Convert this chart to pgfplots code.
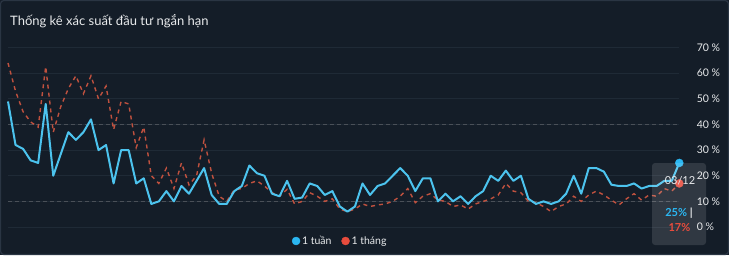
\documentclass[border=0pt]{standalone}
\usepackage{pgfplots}
\pgfplotsset{compat=1.18}
\usepackage{pgfplotstable}
\usepackage{fontspec}
\setmainfont{Lato}
\definecolor{bg}{HTML}{141D28}
\definecolor{framec}{HTML}{2A3543}
\definecolor{gridc}{HTML}{1F2A36}
\definecolor{gridd}{HTML}{4A5058}
\definecolor{txt}{HTML}{E8EAEC}
\definecolor{blueL}{HTML}{4CC3EE}
\definecolor{redL}{HTML}{C0513F}
\definecolor{blueD}{HTML}{2BB7F2}
\definecolor{redD}{HTML}{E84C3D}

\pgfplotstableread{
i w m
0 49 64
1 32 53
2 30.5 45
3 26 41
4 25 39
5 48 62.6
6 20 37
7 28.5 47
8 37 54
9 34 59
10 37 52
11 42 59
12 30 50
13 32 55
14 17 38
15 30 49
16 30 48
17 17 31
18 19 39
19 9 20
20 10 17
21 14 23
22 10 15
23 16 25
24 13 16.4
25 18 20
26 23 34
27 12.5 21
28 9 12
29 9 10
30 14 14.5
31 16 15
32 24 17
33 21 18
34 20 16
35 13 13.4
36 12 12
37 18 14.7
38 11 9
39 11.5 10
40 17 13.4
41 16 12
42 12.5 10
43 14 11
44 8 7
45 6 6
46 8 7
47 17 9
48 12.5 8
49 16 8.6
50 17 9
51 20 10
52 23 12
53 20 15
54 14 9.5
55 19 12
56 19 13
57 10 10.5
58 13 10
59 10 8
60 12 8.6
61 9 7
62 12 9
63 14 10
64 20 11
65 18 12.5
66 22 17
67 18 14
68 20 13.4
69 11 10
70 9 9.5
71 10 8
72 9 6
73 10 8
74 13 9
75 20 12
76 13 10
77 23 12.5
78 23 14
79 21.6 12.5
80 16.5 10.5
81 16 8.6
82 16 11
83 17 13
84 15 10.5
85 16 12.5
86 16 12
87 18 15
88 18 14
89 25 17
}\datatable

\begin{document}
\begin{tikzpicture}[x=1pt,y=1pt]
\useasboundingbox (0,0) rectangle (729,255);
\fill[bg] (0,0) rectangle (729,255);
\draw[framec, line width=1.2pt, rounded corners=3pt] (0.6,0.6) rectangle (728.4,254.4);
\node[anchor=west, text=txt, font=\fontsize{13}{15}\selectfont, inner sep=0] at (10,234) {Thống kê xác suất đầu tư ngắn hạn};
\begin{axis}[
  at={(8pt,28pt)}, anchor=south west,
  scale only axis, width=671.3pt, height=179.4pt,
  xmin=0, xmax=89, ymin=0, ymax=70,
  clip=false,
  axis line style={draw=none},
  tick style={draw=none},
  xtick=\empty,
  ytick={0,10,20,30,40,50,60,70},
  yticklabels={0 \%,10 \%,20 \%,30 \%,40 \%,50 \%,60 \%,70 \%},
  yticklabel pos=right,
  yticklabel style={anchor=west, xshift=14pt, text=txt, font=\fontsize{10.5}{12}\selectfont},
  ymajorgrids, grid style={gridc, line width=1pt},
  extra y ticks={10,40},
  extra y tick labels={},
  extra y tick style={grid style={gridd, line width=0.9pt, dash pattern=on 4pt off 3pt}},
  legend style={at={(0.495,-0.078)}, anchor=center, draw=none, fill=none,
    text=txt, font=\fontsize{10.5}{12}\selectfont, legend columns=2,
    /tikz/every even column/.append style={column sep=8pt}},
  legend cell align=left,
]
\addplot[redL, line width=1.4pt, dash pattern=on 4pt off 4pt, forget plot] table[x=i,y=m] {\datatable};
\addplot[blueL, line width=2pt, line join=round, forget plot] table[x=i,y=w] {\datatable};
\addplot[only marks, mark=*, mark size=4pt, color=blueD, forget plot] coordinates {(89,25)};
\addplot[only marks, mark=*, mark size=4pt, color=redD, forget plot] coordinates {(89,17)};
\addlegendimage{only marks, mark=*, mark size=4pt, color=blueD}
\addlegendentry{1 tuần}
\addlegendimage{only marks, mark=*, mark size=4pt, color=redD}
\addlegendentry{1 tháng}
\end{axis}
\fill[white, opacity=0.12, rounded corners=3pt] (652,10) rectangle (706,92);
\node[text=txt, font=\fontsize{11}{13}\selectfont, inner sep=0] at (680,74) {03/12};
\node[text=blueD, font=\bfseries\fontsize{11}{13}\selectfont, inner sep=0] at (679,42) {25\% \textcolor{txt}{|}};
\node[text=redD, font=\bfseries\fontsize{11}{13}\selectfont, inner sep=0] at (679.5,27) {17\%};
\end{tikzpicture}
\end{document}
